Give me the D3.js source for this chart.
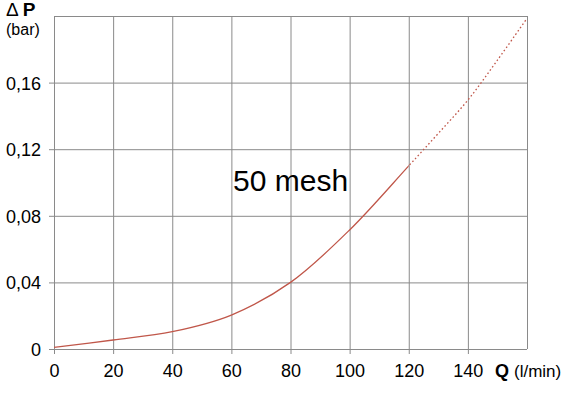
<!DOCTYPE html>
<html>
<head>
<meta charset="utf-8">
<script src="https://cdn.jsdelivr.net/npm/d3@7"></script>
<style>
  body { margin: 0; background: #fff; }
  svg { display: block; font-family: "Liberation Sans", Arial, sans-serif; }
</style>
</head>
<body>
<div id="chart"></div>
<script>
// values
const flowQ = [0, 20, 40, 60, 80, 100, 120, 130, 140, 150, 160];
const dropP = [0.001, 0.0054, 0.0104, 0.0204, 0.040, 0.0715, 0.110, 0.1295, 0.1495, 0.1735, 0.1986];
const solidUntil = 120; // beyond this the curve is dotted
const xTicks = [0, 20, 40, 60, 80, 100, 120, 140];
const xGrid = [0, 20, 40, 60, 80, 100, 120, 140, 160];
const yTicks = [0, 0.04, 0.08, 0.12, 0.16];
const yGrid = [0, 0.04, 0.08, 0.12, 0.16, 0.2];

const width = 583, height = 400;
const margin = { top: 16, right: 56, bottom: 51, left: 54 };
const gridColor = "#8a8a8a";
const curveColor = "#c0574a";

const x = d3.scaleLinear().domain([0, 160]).range([margin.left, width - margin.right]);
const y = d3.scaleLinear().domain([0, 0.2]).range([height - margin.bottom, margin.top]);

const svg = d3.select("#chart").append("svg")
  .attr("width", width)
  .attr("height", height);

// grid
svg.append("g")
  .selectAll("line")
  .data(xGrid)
  .join("line")
  .attr("x1", d => x(d) + 0.5).attr("x2", d => x(d) + 0.5)
  .attr("y1", y(0.2))
  .attr("y2", d => xTicks.includes(d) ? y(0) + 5 : y(0))
  .attr("stroke", gridColor);

svg.append("g")
  .selectAll("line")
  .data(yGrid)
  .join("line")
  .attr("y1", d => y(d) + 0.5).attr("y2", d => y(d) + 0.5)
  .attr("x1", d => yTicks.includes(d) ? x(0) - 5 : x(0))
  .attr("x2", x(160))
  .attr("stroke", gridColor);

// tick labels
svg.append("g")
  .attr("font-size", 18)
  .attr("text-anchor", "middle")
  .selectAll("text")
  .data(xTicks)
  .join("text")
  .attr("x", d => x(d) + 0.5)
  .attr("y", y(0) + 28)
  .text(d => d);

svg.append("g")
  .attr("font-size", 18)
  .attr("text-anchor", "end")
  .selectAll("text")
  .data(yTicks)
  .join("text")
  .attr("x", x(0) - 13)
  .attr("y", d => y(d) + 7)
  .text(d => d === 0 ? "0" : d3.format(".2f")(d).replace(".", ","));

// axis titles
const qLabel = svg.append("text")
  .attr("x", x(160) - 32)
  .attr("y", y(0) + 28)
  .attr("font-size", 18);
qLabel.append("tspan").attr("font-weight", "bold").text("Q");
qLabel.append("tspan").attr("font-size", 17).attr("dx", 5).text("(l/min)");

const pLabel = svg.append("text")
  .attr("x", 6)
  .attr("y", 16)
  .attr("font-size", 19);
pLabel.append("tspan").text("Δ");
pLabel.append("tspan").attr("font-weight", "bold").attr("dx", 4).text("P");

svg.append("text")
  .attr("x", 6)
  .attr("y", 35)
  .attr("font-size", 16)
  .text("(bar)");

// curve: one smooth path, solid part and dotted part split by clipping
const line = d3.line()
  .x((d, i) => x(flowQ[i]))
  .y(d => y(d))
  .curve(d3.curveCatmullRom.alpha(0.5));

const defs = svg.append("defs");
defs.append("clipPath").attr("id", "clip-solid")
  .append("rect")
  .attr("x", 0).attr("y", 0)
  .attr("width", x(solidUntil)).attr("height", height);
defs.append("clipPath").attr("id", "clip-dot")
  .append("rect")
  .attr("x", x(solidUntil)).attr("y", 0)
  .attr("width", width - x(solidUntil)).attr("height", height);

svg.append("path")
  .attr("d", line(dropP))
  .attr("clip-path", "url(#clip-solid)")
  .attr("fill", "none")
  .attr("stroke", curveColor)
  .attr("stroke-width", 1.3);

svg.append("path")
  .attr("d", line(dropP))
  .attr("clip-path", "url(#clip-dot)")
  .attr("fill", "none")
  .attr("stroke", curveColor)
  .attr("stroke-width", 1.3)
  .attr("stroke-dasharray", "1.6,2.4");

svg.append("text")
  .attr("x", 233)
  .attr("y", 191)
  .attr("font-size", 30)
  .text("50 mesh");
</script>
</body>
</html>
